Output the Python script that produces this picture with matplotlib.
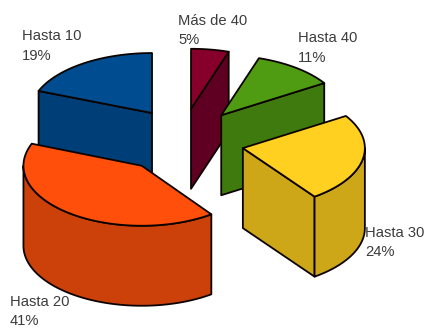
import numpy as np
import matplotlib
matplotlib.use("Agg")
import matplotlib.pyplot as plt
from matplotlib.patches import Polygon

plt.rcParams['font.family'] = ['Liberation Sans', 'DejaVu Sans']

# Clockwise from twelve o'clock
categories = ["Más de 40", "Hasta 40", "Hasta 30", "Hasta 20", "Hasta 10"]
shares = [5, 11, 24, 41, 19]

top_colors = ["#87002B", "#4F9C12", "#FFD020", "#FF4F0A", "#004C90"]
side_colors = ["#5F0022", "#3F7A0E", "#CDA718", "#CC400A", "#003E78"]
label_anchors = [(178, 25), (298, 42), (365, 237), (10, 305.5), (22, 40)]

CENTER = (180.0, 140.0)
RX, RY = 122.0, 60.0
DEPTH = 80.0
EXPLODE = (64.0, 32.6)
# Small per-slice shift and width factor of the exploded wedges
NUDGE = [(1, 1), (2, 1), (0, 2), (1, 0), (8, 0)]
WIDTH = [1.0, 1.0, 1.0, 0.97, 1.0]
DRAW_ORDER = [4, 0, 1, 2, 3]
LINE_HEIGHT = 19.5

fig = plt.figure(figsize=(4.25, 3.29), dpi=100, facecolor="white")
ax = fig.add_axes([0, 0, 1, 1])
ax.set_xlim(0, 425)
ax.set_ylim(329, 0)
ax.axis("off")


def rim(apex, a1, a2, width=1.0, drop=0.0, n=80):
    t = np.radians(np.linspace(a1, a2, n))
    return np.column_stack([apex[0] + RX * width * np.sin(t),
                            apex[1] - RY * np.cos(t) + drop])


def add_poly(points, color):
    ax.add_patch(Polygon(points, closed=True, facecolor=color, edgecolor="#0C0300",
                         linewidth=1.3, joinstyle="round"))


def cut_face(apex, angle, width, color):
    edge = rim(apex, angle, angle, width, n=1)[0]
    add_poly([apex, edge, (edge[0], edge[1] + DEPTH), (apex[0], apex[1] + DEPTH)], color)


edges = np.concatenate([[0], np.cumsum(shares)]) * 360.0 / sum(shares)

for i in DRAW_ORDER:
    a1, a2 = edges[i], edges[i + 1]
    mid = np.radians((a1 + a2) / 2)
    apex = (CENTER[0] + EXPLODE[0] * np.sin(mid) + NUDGE[i][0],
            CENTER[1] - EXPLODE[1] * np.cos(mid) + NUDGE[i][1])
    w = WIDTH[i]

    # Straight cut faces that turn toward the viewer
    if 180 < a1 < 360:
        cut_face(apex, a1, w, side_colors[i])
    if 0 < a2 < 180:
        cut_face(apex, a2, w, side_colors[i])

    # Outer wall on the front half of the ellipse
    lo, hi = max(a1, 90), min(a2, 270)
    if lo < hi:
        add_poly(np.vstack([rim(apex, lo, hi, w), rim(apex, hi, lo, w, DEPTH)]), side_colors[i])

    add_poly(np.vstack([[apex], rim(apex, a1, a2, w)]), top_colors[i])

for name, share, (x, y) in zip(categories, shares, label_anchors):
    ax.text(x, y, name, fontsize=10.6, color="#3C3C3C", ha="left", va="baseline")
    ax.text(x, y + LINE_HEIGHT, f"{share}%", fontsize=10.6, color="#3C3C3C", ha="left", va="baseline")

fig.savefig("out.png", dpi=100, facecolor="white")
